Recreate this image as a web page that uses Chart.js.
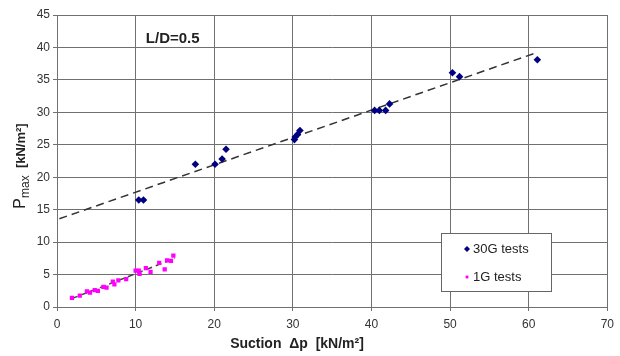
<!DOCTYPE html>
<html>
<head>
<meta charset="utf-8">
<script src="https://cdn.jsdelivr.net/npm/chart.js@4"></script>
<style>
  html, body { margin: 0; padding: 0; background: #fff; }
  #wrap { width: 620px; height: 356px; }
</style>
</head>
<body>
<div id="wrap"><canvas id="chart" width="620" height="356"></canvas></div>
<script>
// 30G centrifuge tests
const g30X = [10.4, 11.0, 17.6, 20.1, 21.0, 21.5, 30.2, 30.3, 30.6, 30.9, 40.4, 41.0, 41.8, 42.3, 50.3, 51.2, 61.1];
const g30Y = [16.5, 16.5, 22.0, 22.0, 22.8, 24.3, 25.8, 26.2, 26.6, 27.2, 30.3, 30.3, 30.3, 31.3, 36.1, 35.5, 38.1];

// 1G tests
const g1X = [1.9, 2.9, 3.8, 4.2, 4.8, 5.2, 5.9, 6.3, 7.1, 7.3, 7.8, 8.8, 10.0, 10.4, 10.5, 11.3, 11.9, 13.0, 13.7, 14.0, 14.5, 14.8];
const g1Y = [1.4, 1.75, 2.4, 2.2, 2.6, 2.5, 3.1, 3.0, 3.9, 3.5, 4.1, 4.3, 5.6, 5.6, 5.1, 6.0, 5.4, 6.8, 5.8, 7.2, 7.1, 7.9];

// trend lines (end points)
const trend30X = [0.3, 61.0];
const trend30Y = [13.6, 39.2];
const trend1X = [1.9, 15.0];
const trend1Y = [1.3, 7.5];

const xTicks = [0, 10, 20, 30, 40, 50, 60, 70];
const yTicks = [0, 5, 10, 15, 20, 25, 30, 35, 40, 45];

const toPts = (xs, ys) => xs.map((x, i) => ({ x: x, y: ys[i] }));

const FONT = '"Liberation Sans", Arial, sans-serif';

// titles, annotation and the boxed legend inside the plot
const extras = {
  id: 'extras',
  afterDraw(chart) {
    const ctx = chart.ctx;
    const area = chart.chartArea;
    const xs = chart.scales.x, ys = chart.scales.y;
    ctx.save();
    ctx.fillStyle = '#222';

    // annotation
    ctx.font = 'bold 15px ' + FONT;
    ctx.textBaseline = 'middle';
    ctx.textAlign = 'left';
    ctx.fillText('L/D=0.5', xs.getPixelForValue(11.3), ys.getPixelForValue(41.3));

    // x title
    ctx.font = 'bold 14px ' + FONT;
    ctx.textAlign = 'center';
    ctx.fillText('Suction  \u0394p  [kN/m\u00b2]', 297, 344);

    // y title with subscript
    ctx.translate(21, 166);
    ctx.rotate(-Math.PI / 2);
    ctx.textAlign = 'left';
    const p = 'P', sub = 'max', rest = '  [kN/m\u00b2]';
    ctx.font = '16px ' + FONT;
    const wP = ctx.measureText(p).width;
    ctx.font = '12px ' + FONT;
    const wSub = ctx.measureText(sub).width;
    ctx.font = 'bold 13px ' + FONT;
    const wRest = ctx.measureText(rest).width;
    let cx = -(wP + wSub + wRest) / 2;
    ctx.font = '16px ' + FONT;
    ctx.fillText(p, cx, 0); cx += wP;
    ctx.font = '12px ' + FONT;
    ctx.fillText(sub, cx, 5); cx += wSub;
    ctx.font = 'bold 13px ' + FONT;
    ctx.fillText(rest, cx, 0);
    ctx.restore();

    // legend box
    ctx.save();
    const bx = area.left + 384, by = area.top + 218, bw = 110, bh = 58;
    ctx.fillStyle = '#fff';
    ctx.fillRect(bx, by, bw, bh);
    ctx.strokeStyle = '#666';
    ctx.lineWidth = 1;
    ctx.strokeRect(bx + 0.5, by + 0.5, bw, bh);
    const items = [chart.data.datasets[0], chart.data.datasets[1]];
    ctx.font = '13px ' + FONT;
    ctx.textBaseline = 'middle';
    ctx.textAlign = 'left';
    items.forEach((ds, i) => {
      const ly = by + 16 + i * 28;
      ctx.fillStyle = ds.backgroundColor;
      ctx.strokeStyle = ds.borderColor;
      Chart.helpers.drawPoint(ctx, { pointStyle: ds.pointStyle, radius: i === 0 ? 3 : 2, borderWidth: 0, rotation: 0 }, bx + 26, ly);
      ctx.fillStyle = '#222';
      ctx.fillText(ds.label, bx + 32, ly);
    });
    ctx.restore();
  }
};

new Chart(document.getElementById('chart'), {
  type: 'scatter',
  data: {
    datasets: [
      {
        label: '30G tests',
        data: toPts(g30X, g30Y),
        pointStyle: 'rectRot',
        pointRadius: 3.8,
        backgroundColor: '#000080',
        borderColor: '#000080',
        borderWidth: 0
      },
      {
        label: '1G tests',
        data: toPts(g1X, g1Y),
        pointStyle: 'rect',
        pointRadius: 3,
        backgroundColor: '#ff00ff',
        borderColor: '#ff00ff',
        borderWidth: 0
      },
      {
        label: 'trend 30G',
        type: 'line',
        data: toPts(trend30X, trend30Y),
        borderColor: '#333',
        borderWidth: 1.5,
        borderDash: [8, 5],
        pointRadius: 0,
        fill: false
      },
      {
        label: 'trend 1G',
        type: 'line',
        data: toPts(trend1X, trend1Y),
        borderColor: '#444',
        borderWidth: 1.5,
        borderDash: [6, 4],
        pointRadius: 0,
        fill: false
      }
    ]
  },
  options: {
    responsive: false,
    animation: false,
    events: [],
    layout: { padding: { top: 15, right: 6, left: 0, bottom: 0 } },
    plugins: {
      legend: { display: false },
      tooltip: { enabled: false }
    },
    scales: {
      x: {
        type: 'linear',
        min: 0,
        max: 70,
        afterFit(scale) { scale.height = 49; },
        afterBuildTicks(scale) { scale.ticks = xTicks.map(v => ({ value: v })); },
        ticks: { color: '#333', font: { family: FONT, size: 12 }, padding: 6, maxRotation: 0 },
        grid: { color: '#707070', lineWidth: 1, tickLength: 4 },
        border: { color: '#707070' }
      },
      y: {
        type: 'linear',
        min: 0,
        max: 45,
        afterFit(scale) { scale.width = 57; },
        afterBuildTicks(scale) { scale.ticks = yTicks.map(v => ({ value: v })); },
        ticks: { color: '#333', font: { family: FONT, size: 12 }, padding: 3 },
        grid: { color: '#707070', lineWidth: 1, tickLength: 4 },
        border: { color: '#707070' }
      }
    }
  },
  plugins: [extras]
});
</script>
</body>
</html>
